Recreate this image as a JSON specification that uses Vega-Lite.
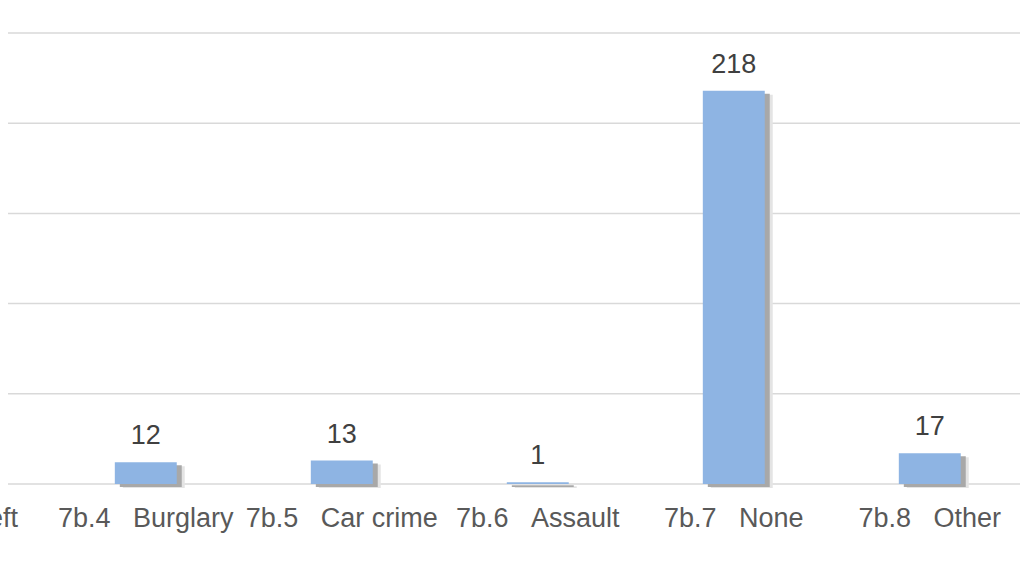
{
  "$schema": "https://vega.github.io/schema/vega-lite/v6.json",
  "width": 1012,
  "height": 451,
  "autosize": {"type": "none"},
  "padding": {"left": 8, "top": 33, "right": 6, "bottom": 96},
  "background": "white",
  "config": {"view": {"stroke": null}, "font": "Liberation Sans"},
  "datasets": {
    "crimes": [
      {"category": "7b.4 Burglary", "count": 12},
      {"category": "7b.5 Car crime", "count": 13},
      {"category": "7b.6 Assault", "count": 1},
      {"category": "7b.7 None", "count": 218},
      {"category": "7b.8 Other", "count": 17}
    ],
    "grid": [
      {"level": 0}, {"level": 50}, {"level": 100}, {"level": 150}, {"level": 200}, {"level": 250}
    ]
  },
  "layer": [
    {
      "data": {"name": "grid"},
      "mark": {"type": "rule", "stroke": "#d9d9d9", "strokeWidth": 1.5},
      "encoding": {
        "y": {"field": "level", "type": "quantitative", "scale": {"domain": [0, 250], "nice": false}, "axis": null}
      }
    },
    {
      "data": {"name": "crimes"},
      "encoding": {
        "x": {
          "field": "category",
          "type": "nominal",
          "sort": null,
          "scale": {
            "domain": ["7b.3 Theft", "7b.4 Burglary", "7b.5 Car crime", "7b.6 Assault", "7b.7 None", "7b.8 Other"],
            "range": [-156, 1012],
            "paddingInner": 0.684,
            "paddingOuter": 0.3216,
            "align": 0.53
          },
          "axis": {
            "title": null,
            "domain": false,
            "ticks": false,
            "tickSize": 0,
            "grid": false,
            "labelPadding": 21,
            "labelFontSize": 27,
            "labelColor": "#595959",
            "labelAngle": 0,
            "labelLimit": 0,
            "labelFont": "Liberation Sans",
            "labelExpr": "replace(datum.label, ' ', '\u00a0\u00a0\u00a0')"
          }
        },
        "y": {
          "field": "count",
          "type": "quantitative",
          "scale": {"domain": [0, 250], "nice": false},
          "axis": null
        }
      },
      "layer": [
        {"mark": {"type": "bar", "fill": "#e4e4e4", "xOffset": 8, "yOffset": 4}},
        {"mark": {"type": "bar", "fill": "#a8a8a8", "xOffset": 5, "yOffset": 3}},
        {"mark": {"type": "bar", "fill": "#8EB4E3"}},
        {
          "mark": {"type": "text", "baseline": "alphabetic", "dy": -18, "fontSize": 27, "fill": "#404040", "font": "Liberation Sans"},
          "encoding": {"text": {"field": "count", "type": "quantitative"}}
        }
      ]
    }
  ]
}
